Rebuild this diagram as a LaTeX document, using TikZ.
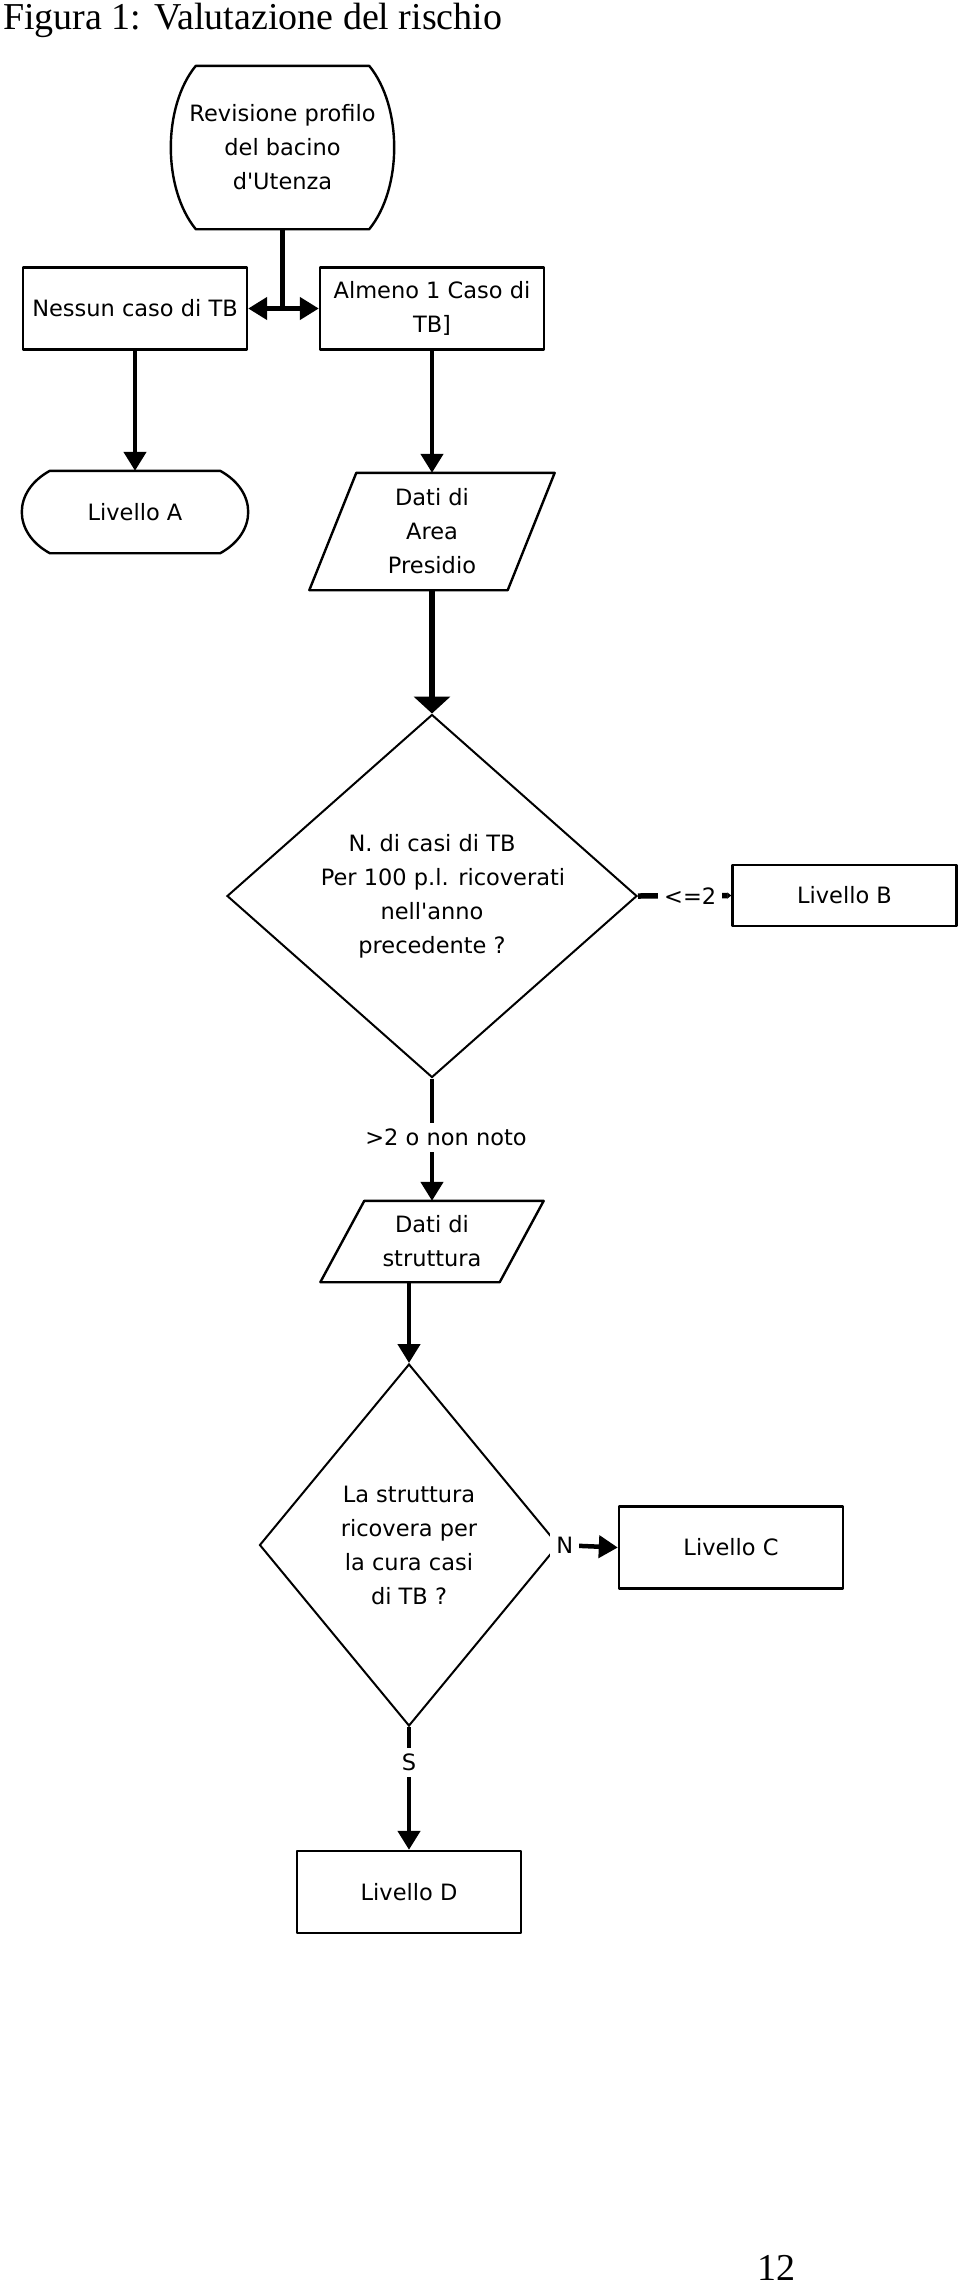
\documentclass[tikz,border=0pt]{standalone}
\usepackage{fontspec}
\usetikzlibrary{arrows.meta,shapes.geometric,calc}

\newfontfamily\diagfont{DejaVu Sans}[Ligatures=TeXOff]
\newfontfamily\titlefont{Liberation Serif}

% outline with bulging sides round a named node
\newcommand{\bulgeshape}[2]{%
  \draw[outline] ([xshift=#2]#1.north west) -- ([xshift=-#2]#1.north east)
    .. controls ($(#1.north east)!.5!(#1.east)+(#2/3,0)$) and ($(#1.south east)!.5!(#1.east)+(#2/3,0)$) .. ([xshift=-#2]#1.south east)
    -- ([xshift=#2]#1.south west)
    .. controls ($(#1.south west)!.5!(#1.west)-(#2/3,0)$) and ($(#1.north west)!.5!(#1.west)-(#2/3,0)$) .. ([xshift=#2]#1.north west) -- cycle;}
% parallelogram round a named node
\newcommand{\slantshape}[2]{%
  \draw[outline] ([xshift=#2]#1.north west) -- (#1.north east)
    -- ([xshift=-#2]#1.south east) -- (#1.south west) -- cycle;}

\begin{document}
\begin{tikzpicture}[
  x=1pt, y=-1pt,
  txt/.style={font=\diagfont\fontsize{22.5}{34}\selectfont, align=center, inner sep=0pt},
  outline/.style={draw, line width=2.4pt, line join=round},
  box/.style={txt, rectangle, outline, minimum width=224pt, minimum height=82pt},
  decision/.style={txt, diamond, draw, line width=2pt},
  link/.style={line width=4.5pt},
  flow/.style={link, -{Triangle[length=19pt, width=22pt]}},
  heavyflow/.style={line width=6.5pt, -{Triangle[length=17pt, width=36pt]}},
  cond/.style={txt, fill=white, inner xsep=6pt, inner ysep=6pt}
]
\useasboundingbox[fill=white] (0,0) rectangle (960,2287);

% Title
\node[anchor=base west, font=\titlefont\fontsize{38}{44}\selectfont, inner sep=0pt] (title) at (3,29) {Figura 1: Valutazione del rischio};

% Shapes
\node[txt, minimum width=223pt, minimum height=163pt] (rev) at (282.5,147.5) {Revisione profilo\\del bacino\\d'Utenza};
\bulgeshape{rev}{25pt}
\node[box] (no) at (135,308.5) {Nessun caso di TB};
\node[box] (al) at (432,308.5) {Almeno 1 Caso di\\TB]};
\node[txt, minimum width=226pt, minimum height=82pt] (la) at (135,512) {Livello A};
\bulgeshape{la}{28pt}
\node[txt, minimum width=245pt, minimum height=117pt] (pres) at (432,531.5) {Dati di\\Area\\Presidio};
\slantshape{pres}{47pt}
\node[decision, aspect=1.13, minimum width=410pt, minimum height=363pt] (d1) at (432,896) {N. di casi di TB\\\hspace*{22pt}Per 100 p.l. ricoverati\hspace*{-22pt}\\nell'anno\\precedente ?};
\node[box, minimum height=61pt] (lb) at (844.5,895.5) {Livello B};
\node[txt, minimum width=223pt, minimum height=81pt] (str) at (432,1241.5) {Dati di\\struttura};
\slantshape{str}{44pt}
\node[decision, aspect=0.83, minimum width=299pt, minimum height=362pt] (d2) at (409,1545) {La struttura\\ricovera per\\la cura casi\\di TB ?};
\node[box] (lc) at (731,1547.5) {Livello C};
\node[box] (ld) at (409,1892) {Livello D};

% Page number
\node[anchor=base west, font=\titlefont\fontsize{38}{44}\selectfont, inner sep=0pt] (page) at (757,2280) {12};

% Connectors
\coordinate (fork) at (rev.south |- no.east);
\draw[link] (rev.south) -- (fork);
\draw[link, {Triangle[length=19pt, width=22pt]}-{Triangle[length=19pt, width=22pt]}] (no.east) -- (al.west);
\draw[flow] (no.south) -- (la.north);
\draw[flow] (al.south) -- (pres.north);
\draw[heavyflow] (pres.south) -- (d1.north);
\draw[link, line width=5.5pt, -{Triangle[length=4pt, width=6pt]}] (d1.east) -- node[cond, pos=0.56] {<=2} (lb.west);
\draw[flow] (d1.south) -- node[cond, pos=0.48, xshift=14pt] {>2 o non noto} (str.north);
\draw[flow] (d2.north |- str.south) -- (d2.north);
\draw[flow] (d2.east) -- node[cond, pos=0.09] {N} (lc.west);
\draw[flow] (d2.south) -- node[cond, pos=0.29] {S} (ld.north);

\end{tikzpicture}
\end{document}
